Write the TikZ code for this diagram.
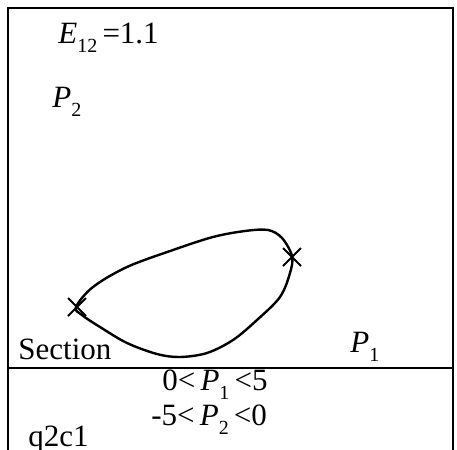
\documentclass[tikz,border=0pt]{standalone}
\usepackage{fontspec}
\setmainfont{Liberation Serif}
\usetikzlibrary{shapes.misc}
\newcommand{\lowsub}[1]{\raisebox{-0.7ex}{\fontsize{10}{10}\selectfont #1}}

\begin{document}
\begin{tikzpicture}[x=0.5pt, y=-0.5pt,
    lbl/.style={inner sep=0pt, anchor=base west, font=\fontsize{15.5}{17}\selectfont},
    xmark/.style={cross out, draw, line width=1pt, minimum size=8pt, inner sep=0pt},
    frame/.style={line width=1.2pt},
]
    \useasboundingbox (0,0) rectangle (457,450);

    % frame and divider
    \draw[frame] (8,450) -- (8,8) -- (453,8) -- (453,450);
    \draw[frame] (8,368) -- (453,368);

    % labels
    \node[lbl] (energy) at (58,43) {\textit{E}\lowsub{12}\,=1.1};
    \node[lbl] (ptwo) at (52,107) {\textit{P}\lowsub{2}};
    \node[lbl] (section) at (18,359) {Section};
    \node[lbl] (pone) at (350,352) {\textit{P}\lowsub{1}};
    \node[lbl] (rangeone) at (162,390) {0<\,\textit{P}\lowsub{1}\,<5};
    \node[lbl] (rangetwo) at (151,425) {-5<\,\textit{P}\lowsub{2}\,<0};
    \node[lbl] (caseid) at (28,446) {q2c1};

    % closed orbit
    \draw[line width=1.2pt] plot[smooth cycle, tension=0.55] coordinates {
        (76,307) (93,287) (127,267) (173,250) (213,237) (245,231) (268,230)
        (282,238) (292,256) (290,273) (280,297) (257,320) (233,340)
        (207,353) (180,357) (157,354) (127,343) (100,327) (82,315)};

    % section points
    \node[xmark] (crossa) at (77,307) {};
    \node[xmark] (crossb) at (292,257) {};
\end{tikzpicture}
\end{document}
